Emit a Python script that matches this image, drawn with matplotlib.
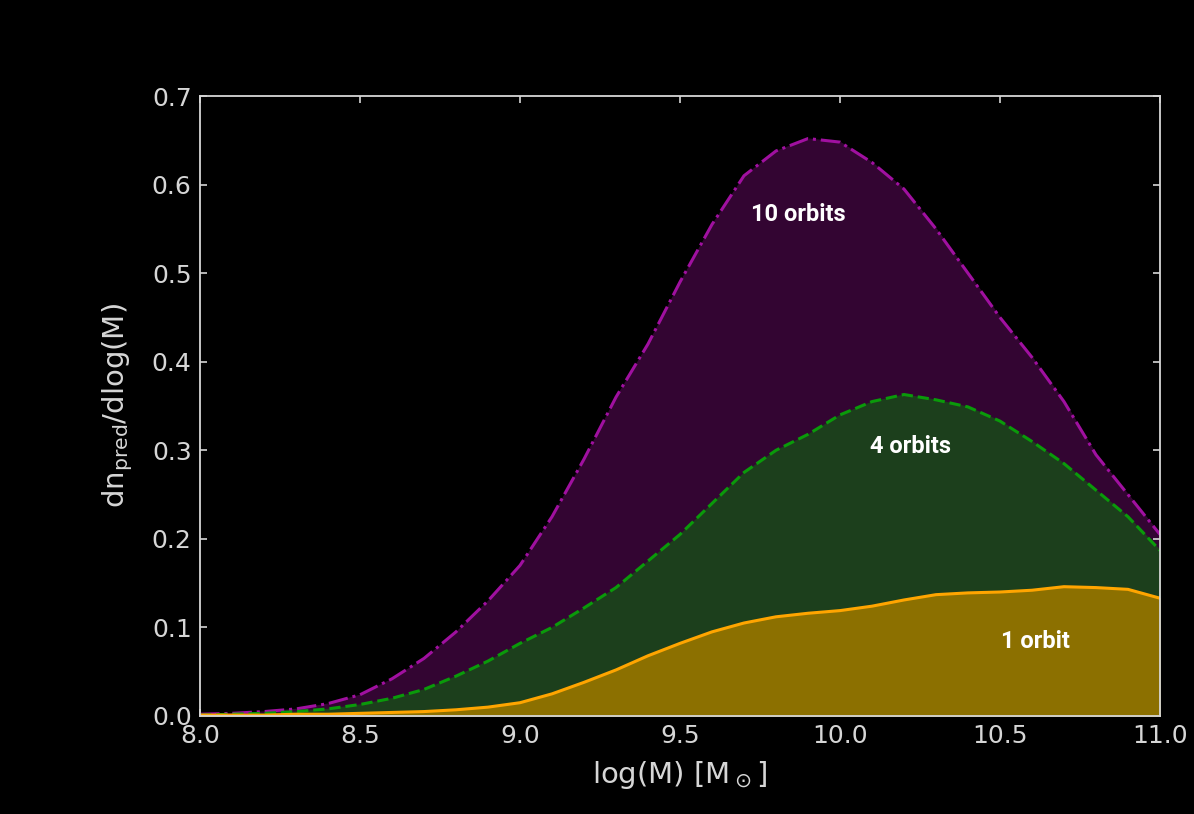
import matplotlib
matplotlib.use("Agg")
import matplotlib.pyplot as plt
import numpy as np

logM = [8.0, 8.1, 8.2, 8.3, 8.4, 8.5, 8.6, 8.7, 8.8, 8.9, 9.0, 9.1, 9.2, 9.3, 9.4, 9.5,
        9.6, 9.7, 9.8, 9.9, 10.0, 10.1, 10.2, 10.3, 10.4, 10.5, 10.6, 10.7, 10.8, 10.9, 11.0]

orbits10 = [0.002, 0.003, 0.005, 0.008, 0.014, 0.024, 0.042, 0.065, 0.095, 0.13, 0.17, 0.225,
            0.29, 0.36, 0.42, 0.49, 0.555, 0.61, 0.638, 0.652, 0.648, 0.625, 0.595, 0.55, 0.50,
            0.45, 0.405, 0.355, 0.295, 0.25, 0.205]
orbits4 = [0.001, 0.002, 0.003, 0.005, 0.008, 0.013, 0.02, 0.03, 0.045, 0.062, 0.082, 0.10,
           0.122, 0.145, 0.175, 0.205, 0.24, 0.275, 0.30, 0.318, 0.34, 0.355, 0.363, 0.357,
           0.349, 0.333, 0.31, 0.285, 0.255, 0.225, 0.187]
orbits1 = [0.001, 0.001, 0.001, 0.002, 0.002, 0.003, 0.004, 0.005, 0.007, 0.010, 0.015, 0.025,
           0.038, 0.052, 0.068, 0.082, 0.095, 0.105, 0.112, 0.116, 0.119, 0.124, 0.131, 0.137,
           0.139, 0.14, 0.142, 0.146, 0.145, 0.143, 0.133]

fg = "#d6d6d6"
fig = plt.figure(figsize=(11.94, 8.14), dpi=100, facecolor="black")
ax = fig.add_axes([0.1675, 0.1204, 0.804, 0.7616], facecolor="black")

# filled areas, largest first
ax.fill_between(logM, 0, orbits10, color="#330532", zorder=1)
ax.plot(logM, orbits10, color="#a010a0", lw=2.2, ls="-.", zorder=2)
ax.fill_between(logM, 0, orbits4, color="#1c3f1c", zorder=3)
ax.plot(logM, orbits4, color="#0a9a0a", lw=2.2, ls="--", zorder=4)
ax.fill_between(logM, 0, orbits1, color="#8c7000", zorder=5)
ax.plot(logM, orbits1, color="#ffa500", lw=2.2, zorder=6)

lab_font = ["Roboto", "DejaVu Sans"]
ax.text(9.87, 0.566, "10 orbits", color="white", fontsize=17, fontweight="bold",
        family=lab_font, ha="center", va="center", zorder=10)
ax.text(10.22, 0.304, "4 orbits", color="white", fontsize=17, fontweight="bold",
        family=lab_font, ha="center", va="center", zorder=10)
ax.text(10.61, 0.084, "1 orbit", color="white", fontsize=17, fontweight="bold",
        family=lab_font, ha="center", va="center", zorder=10)

ax.set_xlim(8.0, 11.0)
ax.set_ylim(0.0, 0.7)
ax.set_xticks(np.arange(8.0, 11.01, 0.5))
ax.set_yticks(np.arange(0.0, 0.71, 0.1))
ax.tick_params(direction="in", top=True, right=True, length=5, width=1.2,
               colors=fg, labelsize=18, pad=6)
for s in ax.spines.values():
    s.set_color(fg)
    s.set_linewidth(1.3)
    s.set_zorder(20)

ax.set_xlabel(r"log(M) [M$_\odot$]", color=fg, fontsize=21, labelpad=8)
ax.set_ylabel(r"dn$_{\rm pred}$/dlog(M)", color=fg, fontsize=21, labelpad=12)

fig.savefig("out.png", dpi=100, facecolor="black")
